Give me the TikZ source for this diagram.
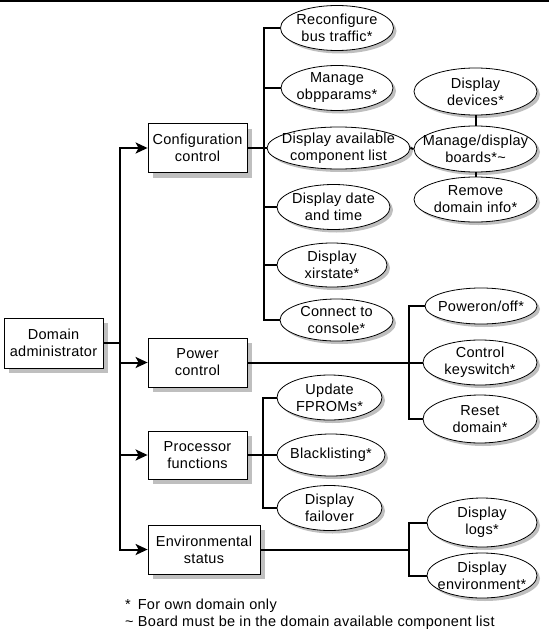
\documentclass[tikz,border=0pt]{standalone}
\usepackage{fontspec}
\setmainfont[LetterSpace=2]{Liberation Sans}
\usetikzlibrary{shapes.geometric,shadows,arrows.meta}
\begin{document}
\begin{tikzpicture}[x=1pt,y=-1pt,
  font=\fontsize{14.5}{17}\selectfont,
  box/.style={draw,line width=0.8pt,fill=white,align=center,inner sep=0pt,
     drop shadow={shadow xshift=5pt,shadow yshift=-5pt,fill=black!25,opacity=1}},
  ell/.style={ellipse,draw,line width=0.8pt,fill=white,align=center,
     inner xsep=-30pt,inner ysep=-25pt,
     drop shadow={shadow xshift=3pt,shadow yshift=-3pt,fill=black!25,opacity=1}},
  conn/.style={line width=2pt},
  arr/.style={conn,-{Stealth[length=12pt,width=11pt,inset=3pt]}},
  note/.style={anchor=west,inner sep=0pt}
]
\useasboundingbox (0,0) rectangle (549,642);
\fill[black] (0,0) rectangle (549,2);

% boxes
\node[box,minimum width=99pt,minimum height=50pt] (da) at (53.5,343) {Domain\\administrator};
\node[box,minimum width=99pt,minimum height=49pt] (cc) at (197.5,148) {Configuration\\control};
\node[box,minimum width=99pt,minimum height=49pt] (pc) at (197.5,362.5) {Power\\control};
\node[box,minimum width=99pt,minimum height=48pt] (pf) at (197.5,455) {Processor\\functions};
\node[box,minimum width=112pt,minimum height=49pt] (es) at (204,549.5) {Environmental\\status};

% configuration ellipses
\node[ell,minimum width=113pt,minimum height=45pt] (r1) at (337,28) {Reconfigure\\bus traffic*};
\node[ell,minimum width=112pt,minimum height=45pt] (r2) at (337,88) {Manage\\obpparams*};
\node[ell,minimum width=143pt,minimum height=42pt] (r3) at (338.5,148) {Display available\\component list};
\node[ell,minimum width=113pt,minimum height=45pt] (r4) at (333.5,207) {Display date\\and time};
\node[ell,minimum width=110pt,minimum height=44pt] (r5) at (332,265) {Display\\xirstate*};
\node[ell,minimum width=113pt,minimum height=42pt] (r6) at (336.5,320) {Connect to\\console*};

\node[ell,minimum width=123pt,minimum height=47pt] (d1) at (475.5,91.5) {Display\\devices*};
\node[ell,minimum width=123pt,minimum height=46pt] (d2) at (475.5,149) {Manage/display\\boards*\textasciitilde};
\node[ell,minimum width=123pt,minimum height=45pt] (d3) at (475.5,199.5) {Remove\\domain info*};

% power ellipses
\node[ell,minimum width=112pt,minimum height=36pt] (p1) at (481,306) {Poweron/off*};
\node[ell,minimum width=114pt,minimum height=45pt] (p2) at (480,362.5) {Control\\keyswitch*};
\node[ell,minimum width=114pt,minimum height=48pt] (p3) at (480,419) {Reset\\domain*};

% processor ellipses
\node[ell,minimum width=105pt,minimum height=45pt] (f1) at (329.5,397.5) {Update\\FPROMs*};
\node[ell,minimum width=108pt,minimum height=42pt] (f2) at (331,455) {Blacklisting*};
\node[ell,minimum width=105pt,minimum height=45pt] (f3) at (329.5,508) {Display\\failover};

% environmental ellipses
\node[ell,minimum width=110pt,minimum height=49pt] (e1) at (482,522.5) {Display\\logs*};
\node[ell,minimum width=110pt,minimum height=45pt] (e2) at (482,575.5) {Display\\environment*};

% trunk from domain administrator
\coordinate (tk) at (120,343);
\draw[conn] (da.east) -- (tk);
\draw[arr] (tk) |- (cc.west);
\draw[arr] (tk) |- (pc.west);
\draw[arr] (tk) |- (pf.west);
\draw[arr] (tk) |- (es.west);

% configuration branch
\coordinate (cb) at (264,148);
\draw[conn] (cc.east) -- (r3.west);
\draw[conn] (r1.west) -| (cb) |- (r6.west);
\draw[conn] (cb |- r2.west) -- (r2.west);
\draw[conn] (cb |- r4.west) -- (r4.west);
\draw[conn] (cb |- r5.west) -- (r5.west);
\draw[conn] (r3.east) -- (d2.west);
\draw[conn] (d1.south) -- (d2.north);
\draw[conn] (d2.south) -- (d3.north);

% power branch
\coordinate (pb) at (409,362.5);
\draw[conn] (pc.east) -- (p2.west);
\draw[conn] (p1.west) -| (pb) |- (p3.west);

% processor branch
\coordinate (fb) at (263,455);
\draw[conn] (pf.east) -- (f2.west);
\draw[conn] (f1.west) -| (fb) |- (f3.west);

% environmental branch
\coordinate (eb) at (409,549.5);
\draw[conn] (es.east) -- (eb);
\draw[conn] (e1.west) -| (eb) |- (e2.west);

% footnotes
\node[note] (fn1) at (125,606) {*\hspace{7pt}For own domain only};
\node[note] (fn2) at (125,623) {\textasciitilde{} Board must be in the domain available component list};
\end{tikzpicture}
\end{document}
